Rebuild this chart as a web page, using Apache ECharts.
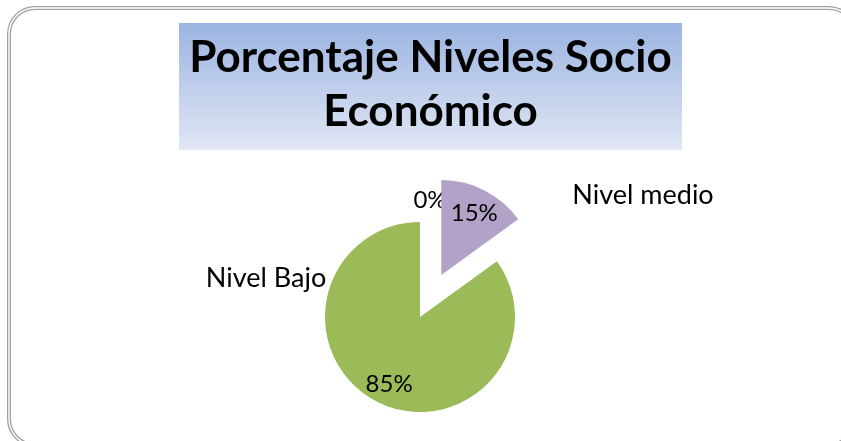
<!DOCTYPE html>
<html>
<head>
<meta charset="utf-8">
<script src="https://cdn.jsdelivr.net/npm/echarts@6/dist/echarts.min.js"></script>
<style>html,body{margin:0;padding:0;background:#fff}#c{width:841px;height:441px}</style>
</head>
<body>
<div id="c"></div>
<script>
const titleLines = ['Porcentaje Niveles Socio', 'Económico'];
const categories = ['Nivel alto', 'Nivel medio', 'Nivel Bajo'];
const values = [0, 15, 85];
const colors = ['#4F81BD', '#B3A2C7', '#9BBB59'];
const nameShown = [false, true, true];

const FONT = 'Lato, "Open Sans", sans-serif';
const chart = echarts.init(document.getElementById('c'), null, {renderer: 'canvas'});

const pctOffsets = [[10, -66], [10, -17], [-8, 22]];
const nameOffsets = [[0, 0], [643, 195], [266, 278]];

const data = categories.map((n, i) => ({
  name: n, value: values[i],
  selected: i === 1,
  itemStyle: {color: colors[i]}
}));

chart.setOption({
  animation: false,
  backgroundColor: '#fff',
  graphic: [
    {type: 'rect', z: 0, shape: {x: 9, y: 8, width: 846, height: 437, r: 26},
     style: {fill: 'none', stroke: '#A0A0A0', lineWidth: 4}},
    {type: 'rect', z: 1, shape: {x: 9, y: 8, width: 846, height: 437, r: 26},
     style: {fill: 'none', stroke: '#FFFFFF', lineWidth: 1.4}},
    {type: 'rect', z: 2, shape: {x: 179, y: 23, width: 503, height: 127},
     style: {fill: new echarts.graphic.LinearGradient(0, 0, 0, 1, [
       {offset: 0, color: '#9BB4E1'}, {offset: 1, color: '#E1E7F4'}])}},
    {type: 'text', z: 3, x: 430.5, y: 58,
     style: {text: titleLines[0], font: 'bold 44px ' + FONT, fill: '#000', align: 'center', verticalAlign: 'middle'}},
    {type: 'text', z: 3, x: 430.5, y: 112,
     style: {text: titleLines[1], font: 'bold 44px ' + FONT, fill: '#000', align: 'center', verticalAlign: 'middle'}}
  ],
  series: [
    {
      type: 'pie',
      center: [420, 317],
      radius: [0, 95],
      startAngle: 90,
      clockwise: true,
      selectedMode: 'single',
      selectedOffset: 47,
      silent: true,
      avoidLabelOverlap: false,
      itemStyle: {borderWidth: 0},
      label: {
        show: true, position: 'inside',
        formatter: p => Math.round(p.percent) + '%',
        color: '#000', fontFamily: FONT, fontSize: 24
      },
      labelLine: {show: false},
      labelLayout: p => ({dx: pctOffsets[p.dataIndex][0], dy: pctOffsets[p.dataIndex][1]}),
      data: data
    },
    {
      type: 'pie',
      center: [420, 317],
      radius: [0, 95],
      startAngle: 90,
      silent: true,
      avoidLabelOverlap: false,
      itemStyle: {color: 'rgba(0,0,0,0)', borderWidth: 0},
      label: {
        show: true, position: 'outside',
        formatter: p => nameShown[p.dataIndex] ? p.name : '',
        color: '#000', fontFamily: FONT, fontSize: 27
      },
      labelLine: {show: false},
      labelLayout: p => ({x: nameOffsets[p.dataIndex][0], y: nameOffsets[p.dataIndex][1], align: 'center', verticalAlign: 'middle'}),
      data: categories.map((n, i) => ({name: n, value: values[i]}))
    }
  ]
});
</script>
</body>
</html>
